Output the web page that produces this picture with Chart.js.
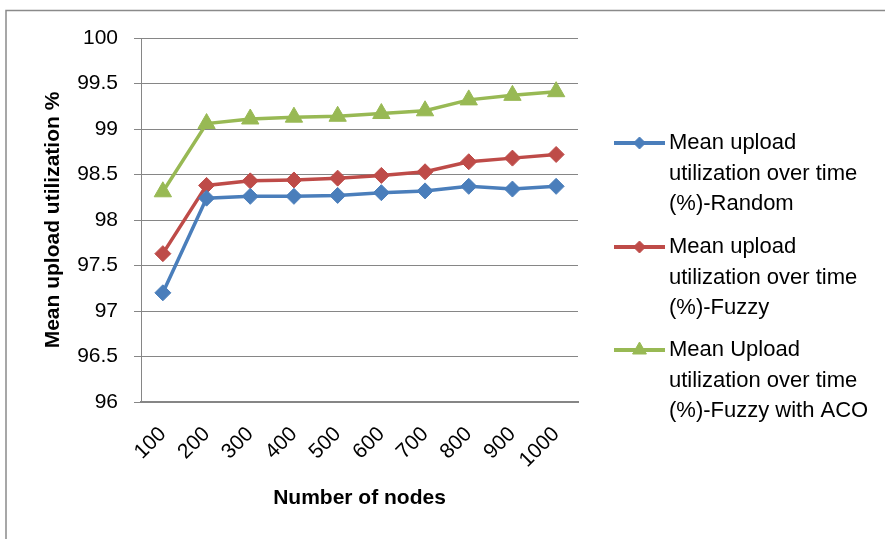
<!DOCTYPE html>
<html>
<head>
<meta charset="utf-8">
<script src="https://cdn.jsdelivr.net/npm/chart.js@4.4.1/dist/chart.umd.min.js"></script>
<style>
  html, body { margin: 0; padding: 0; background: #fff; }
  #wrap { position: relative; width: 885px; height: 539px; }
</style>
</head>
<body>
<div id="wrap"><canvas id="chart"></canvas></div>
<script>
// Data
const nodeLabels = ['100', '200', '300', '400', '500', '600', '700', '800', '900', '1000'];
const randomUtil = [97.2, 98.24, 98.26, 98.26, 98.27, 98.3, 98.32, 98.37, 98.34, 98.37];
const fuzzyUtil = [97.63, 98.38, 98.43, 98.44, 98.46, 98.49, 98.53, 98.64, 98.68, 98.72];
const fuzzyAcoUtil = [98.31, 99.06, 99.11, 99.13, 99.14, 99.17, 99.2, 99.32, 99.37, 99.41];
const seriesNames = [
  ['Mean upload', 'utilization over time', '(%)-Random'],
  ['Mean upload', 'utilization over time', '(%)-Fuzzy'],
  ['Mean Upload', 'utilization over time', '(%)-Fuzzy with ACO'],
];

const FONT = "'Liberation Sans', Arial, sans-serif";
const GRID = '#868686';

Chart.defaults.font.family = FONT;
Chart.defaults.color = '#000';

// outer frame (only top and left edges are visible in the reference)
const framePlugin = {
  id: 'frame',
  beforeDraw(chart) {
    const c = chart.ctx;
    c.save();
    c.strokeStyle = '#8a8a8a';
    c.lineWidth = 1.5;
    c.beginPath();
    c.moveTo(6, 539);
    c.lineTo(6, 10.5);
    c.lineTo(885, 10.5);
    c.stroke();
    c.restore();
  },
};

// Excel-style legend on the right, wrapped labels
const sideLegend = {
  id: 'sideLegend',
  afterDraw(chart) {
    const c = chart.ctx;
    const tops = [143, 247, 350];
    c.save();
    chart.data.datasets.forEach((ds, i) => {
      const y = tops[i];
      c.strokeStyle = ds.borderColor;
      c.lineWidth = 4;
      c.beginPath();
      c.moveTo(614, y);
      c.lineTo(665, y);
      c.stroke();
      c.fillStyle = ds.pointBackgroundColor;
      c.strokeStyle = ds.pointBorderColor;
      c.lineWidth = 1;
      Chart.helpers.drawPoint(c, {
        pointStyle: ds.pointStyle,
        radius: ds.pointStyle === 'triangle' ? 8 : 6,
        borderWidth: 1,
      }, 639.5, y);
      c.fillStyle = '#000';
      c.font = '22px ' + FONT;
      c.textBaseline = 'middle';
      c.textAlign = 'left';
      seriesNames[i].forEach((line, k) => {
        c.fillText(line, 669, y + k * 30.5);
      });
    });
    c.restore();
  },
};

function makeSet(data, color, style, radius) {
  return {
    data,
    borderColor: color,
    backgroundColor: color,
    pointBackgroundColor: color,
    pointBorderColor: color,
    pointStyle: style,
    pointRadius: radius,
    pointBorderWidth: 1,
    borderWidth: 3.5,
    tension: 0,
  };
}

new Chart(document.getElementById('chart'), {
  type: 'line',
  data: {
    labels: nodeLabels,
    datasets: [
      makeSet(randomUtil, '#4a7ebb', 'rectRot', 8),
      makeSet(fuzzyUtil, '#be4b48', 'rectRot', 8),
      makeSet(fuzzyAcoUtil, '#98b954', 'triangle', 10),
    ],
  },
  options: {
    responsive: true,
    maintainAspectRatio: false,
    animation: false,
    layout: { padding: { top: 38, right: 307, bottom: 0, left: 0 } },
    plugins: {
      legend: { display: false },
      tooltip: { enabled: false },
    },
    scales: {
      x: {
        offset: true,
        grid: { display: false, drawTicks: false },
        border: { color: GRID, width: 2 },
        ticks: {
          font: { size: 21 },
          minRotation: 45,
          maxRotation: 45,
          padding: 20,
        },
        title: {
          display: true,
          text: 'Number of nodes',
          font: { size: 21, weight: 'bold' },
          padding: { top: 0, bottom: 28 },
        },
        afterFit(scale) { scale.height = 137; },
      },
      y: {
        min: 96,
        max: 100,
        ticks: {
          stepSize: 0.5,
          font: { size: 21 },
          padding: 16,
          callback: (v) => String(Number(v.toFixed(1))),
        },
        grid: { color: GRID, lineWidth: 1, tickLength: 7 },
        border: { color: GRID, width: 1 },
        title: {
          display: true,
          text: 'Mean upload utilization %',
          font: { size: 21, weight: 'bold' },
          padding: { top: 41, bottom: 0 },
        },
        afterFit(scale) { scale.width = 141; },
      },
    },
  },
  plugins: [framePlugin, sideLegend],
});
</script>
</body>
</html>
